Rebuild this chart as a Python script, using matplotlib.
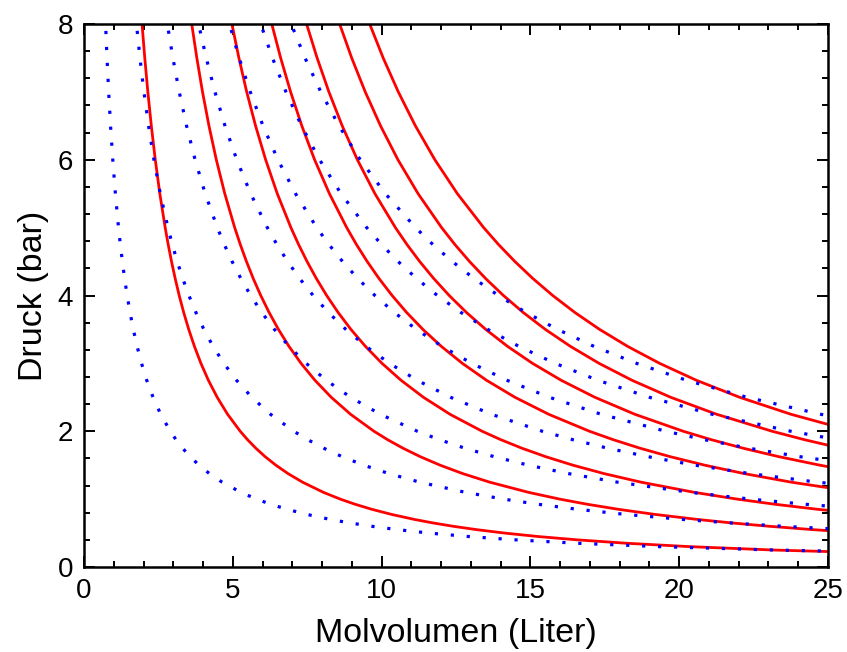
import matplotlib
matplotlib.use("Agg")
import matplotlib.pyplot as plt
from matplotlib.ticker import MultipleLocator

plt.rcParams['font.family'] = ['Liberation Sans', 'DejaVu Sans']

# pressure levels (bar), shared by every curve
druck = [9, 8, 7.5, 7, 6.5, 6, 5.5, 5, 4.75, 4.5, 4.25, 4, 3.75, 3.5, 3.25, 3,
         2.75, 2.5, 2.25, 2, 1.875, 1.75, 1.625, 1.5, 1.375, 1.25, 1.1, 1.0,
         0.925, 0.85, 0.775, 0.7, 0.65, 0.6, 0.55, 0.5, 0.45, 0.4, 0.35, 0.3,
         0.25, 0.2]

# isotherms (blue, dotted): molar volume (L) at each pressure level
iso_1 = [0.644, 0.725, 0.773, 0.829, 0.892, 0.967, 1.055, 1.16, 1.221, 1.289,
         1.365, 1.45, 1.547, 1.657, 1.785, 1.933, 2.109, 2.32, 2.578, 2.9, 3.093,
         3.314, 3.569, 3.867, 4.218, 4.64, 5.273, 5.8, 6.27, 6.824, 7.484, 8.286,
         8.923, 9.667, 10.545, 11.6, 12.889, 14.5, 16.571, 19.333, 23.2, 29.0]
iso_2 = [1.567, 1.763, 1.88, 2.014, 2.169, 2.35, 2.564, 2.82, 2.968, 3.133,
         3.318, 3.525, 3.76, 4.029, 4.338, 4.7, 5.127, 5.64, 6.267, 7.05, 7.52,
         8.057, 8.677, 9.4, 10.255, 11.28, 12.818, 14.1, 15.243, 16.588, 18.194,
         20.143, 21.692, 23.5, 25.636]
iso_3 = [2.489, 2.8, 2.987, 3.2, 3.446, 3.733, 4.073, 4.48, 4.716, 4.978,
         5.271, 5.6, 5.973, 6.4, 6.892, 7.467, 8.145, 8.96, 9.956, 11.2, 11.947,
         12.8, 13.785, 14.933, 16.291, 17.92, 20.364, 22.4, 24.216, 26.353]
iso_4 = [3.422, 3.85, 4.107, 4.4, 4.738, 5.133, 5.6, 6.16, 6.484, 6.844,
         7.247, 7.7, 8.213, 8.8, 9.477, 10.267, 11.2, 12.32, 13.689, 15.4, 16.427,
         17.6, 18.954, 20.533, 22.4, 24.64, 28.0]
iso_5 = [4.344, 4.888, 5.213, 5.586, 6.015, 6.517, 7.109, 7.82, 8.232, 8.689,
         9.2, 9.775, 10.427, 11.171, 12.031, 13.033, 14.218, 15.64, 17.378, 19.55,
         20.853, 22.343, 24.062, 26.067]
iso_6 = [5.278, 5.938, 6.333, 6.786, 7.308, 7.917, 8.636, 9.5, 10.0, 10.556,
         11.176, 11.875, 12.667, 13.571, 14.615, 15.833, 17.273, 19.0, 21.111,
         23.75, 25.333]
iso_7 = [6.189, 6.963, 7.427, 7.957, 8.569, 9.283, 10.127, 11.14, 11.726, 12.378,
         13.106, 13.925, 14.853, 15.914, 17.138, 18.567, 20.255, 22.28, 24.756,
         27.85]

# adiabats (red, solid): molar volume (L) at each pressure level
adi_1 = [1.793, 1.95, 2.042, 2.145, 2.262, 2.395, 2.548, 2.728, 2.83, 2.941,
         3.064, 3.199, 3.35, 3.52, 3.711, 3.929, 4.181, 4.476, 4.825, 5.249, 5.497,
         5.774, 6.088, 6.447, 6.86, 7.343, 8.045, 8.612, 9.105, 9.672, 10.332,
         11.111, 11.715, 12.404, 13.199, 14.129, 15.234, 16.571, 18.229, 20.351,
         23.182, 27.187]
adi_2 = [3.328, 3.62, 3.791, 3.982, 4.199, 4.446, 4.731, 5.064, 5.253, 5.46,
         5.687, 5.939, 6.22, 6.534, 6.889, 7.294, 7.762, 8.309, 8.958, 9.744,
         10.204, 10.72, 11.302, 11.967, 12.734, 13.632, 14.935, 15.987, 16.903,
         17.955, 19.181, 20.626, 21.748, 23.027, 24.503, 26.23]
adi_3 = [4.569, 4.97, 5.205, 5.467, 5.765, 6.104, 6.495, 6.953, 7.212, 7.496,
         7.808, 8.154, 8.539, 8.97, 9.458, 10.015, 10.656, 11.407, 12.299, 13.378,
         14.009, 14.717, 15.517, 16.43, 17.483, 18.716, 20.505, 21.95, 23.206,
         24.651, 26.334]
adi_4 = [5.801, 6.31, 6.608, 6.942, 7.319, 7.749, 8.247, 8.828, 9.156, 9.517,
         9.914, 10.353, 10.841, 11.389, 12.008, 12.715, 13.529, 14.483, 15.615,
         16.985, 17.787, 18.685, 19.701, 20.86, 22.197, 23.762, 26.033]
adi_5 = [6.876, 7.48, 7.833, 8.229, 8.676, 9.186, 9.776, 10.465, 10.854, 11.282,
         11.752, 12.272, 12.851, 13.501, 14.234, 15.072, 16.038, 17.168, 18.51,
         20.135, 21.085, 22.15, 23.354, 24.728, 26.313]
adi_6 = [7.897, 8.59, 8.995, 9.45, 9.964, 10.549, 11.226, 12.017, 12.465, 12.956,
         13.496, 14.094, 14.758, 15.504, 16.347, 17.309, 18.418, 19.716, 21.257,
         23.123, 24.213, 25.437]
adi_7 = [8.825, 9.6, 10.053, 10.561, 11.135, 11.79, 12.546, 13.43, 13.931, 14.48,
         15.083, 15.751, 16.494, 17.327, 18.269, 19.344, 20.583, 22.034, 23.756,
         25.841]

isothermen = [iso_1, iso_2, iso_3, iso_4, iso_5, iso_6, iso_7]
adiabaten = [adi_1, adi_2, adi_3, adi_4, adi_5, adi_6, adi_7]

fig = plt.figure(figsize=(8.47, 6.52), dpi=100)
ax = fig.add_axes([84 / 847, 1 - 567 / 652, 744 / 847, 543 / 652])

for v in adiabaten:
    ax.plot(v, druck[:len(v)], color='#ff0000', lw=2.0, zorder=2)
for v in isothermen:
    ax.plot(v, druck[:len(v)], color='#0000ff', lw=2.3,
            linestyle=(0, (1, 4)), zorder=3)

ax.set_xlim(0, 25)
ax.set_ylim(0, 8)
ax.xaxis.set_major_locator(MultipleLocator(5))
ax.xaxis.set_minor_locator(MultipleLocator(1))
ax.yaxis.set_major_locator(MultipleLocator(2))
ax.yaxis.set_minor_locator(MultipleLocator(0.4))
ax.tick_params(which='both', direction='in', top=True, right=True, width=1.4,
               labelsize=20, pad=8)
ax.tick_params(which='major', length=8)
ax.tick_params(which='minor', length=4.5)
for s in ax.spines.values():
    s.set_linewidth(1.8)

ax.set_xlabel('Molvolumen (Liter)', fontsize=24.5, labelpad=10)
ax.set_ylabel('Druck (bar)', fontsize=24.5, labelpad=6)

fig.savefig('out.png', dpi=100)
